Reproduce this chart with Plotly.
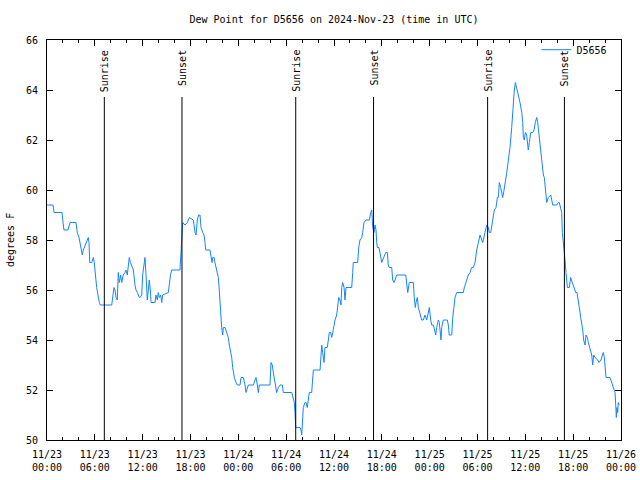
import pandas as pd
import plotly.graph_objects as go

# hours since 2024-11-23 00:00 UTC
hours = [0.00, 0.75, 0.88, 1.88, 2.01, 2.13, 2.63, 2.89, 3.64, 3.80, 4.01, 4.14, 4.43, 4.55, 4.77, 4.98,
         5.18, 5.27, 5.36, 5.61, 5.81, 5.93, 6.06, 6.23, 6.56, 6.69, 8.12, 8.28, 8.40, 8.53, 8.66, 8.82,
         8.94, 9.07, 9.24, 9.37, 9.57, 9.78, 9.91, 10.07, 10.20, 10.32, 10.47, 10.62, 10.83, 11.04, 11.16,
         11.33, 11.45, 11.58, 11.67, 11.88, 12.00, 12.17, 12.29, 12.42, 12.51, 12.58, 12.71, 12.83, 12.96,
         13.05, 13.55, 13.67, 13.84, 13.96, 14.09, 14.26, 14.39, 14.51, 15.22, 15.34, 15.49, 15.64, 16.68,
         16.81, 16.90, 17.02, 17.31, 17.60, 17.85, 18.13, 18.35, 18.57, 18.69, 18.85, 19.03, 19.19, 19.32,
         19.53, 19.69, 19.82, 19.91, 20.45, 20.57, 20.70, 20.79, 20.95, 21.07, 21.20, 21.36, 21.49, 21.61,
         21.70, 21.83, 21.91, 22.04, 22.12, 22.33, 22.54, 22.74, 22.87, 23.04, 23.17, 23.29, 23.37, 23.50,
         23.71, 23.87, 24.21, 24.34, 24.62, 24.84, 24.96, 25.13, 25.25, 25.88, 26.09, 26.22, 26.38, 26.51,
         26.63, 27.97, 28.10, 28.26, 28.39, 28.60, 28.73, 28.81, 29.01, 29.23, 29.52, 29.64, 30.70, 30.90,
         31.02, 31.11, 31.20, 31.74, 31.86, 31.95, 32.08, 32.15, 32.36, 32.49, 32.65, 32.78, 32.90, 33.20,
         33.33, 33.41, 34.25, 34.33, 34.37, 34.46, 34.58, 34.75, 34.87, 35.16, 35.29, 35.41, 35.59, 35.71,
         35.84, 36.00, 36.13, 36.34, 36.47, 36.59, 36.75, 36.88, 36.97, 37.09, 37.26, 37.38, 37.51, 38.22,
         38.35, 38.42, 38.97, 39.10, 39.26, 39.48, 39.60, 39.76, 40.02, 40.43, 40.61, 40.73, 40.86, 41.02,
         41.14, 41.27, 41.36, 41.43, 41.65, 41.77, 41.99, 42.11, 42.27, 42.49, 42.69, 42.81, 42.94, 43.24,
         43.36, 43.53, 43.65, 43.87, 45.00, 45.12, 45.25, 45.45, 45.95, 46.07, 46.20, 46.29, 46.45, 46.58,
         46.79, 47.00, 47.20, 47.42, 47.63, 47.83, 47.96, 48.13, 48.26, 48.46, 48.58, 48.76, 48.88, 49.09,
         49.21, 49.30, 49.42, 49.51, 49.71, 50.21, 50.34, 50.46, 50.77, 50.89, 51.05, 51.18, 51.39, 52.22,
         52.35, 52.56, 52.85, 53.06, 53.27, 53.48, 53.69, 53.90, 54.10, 54.32, 54.53, 54.66, 54.94, 55.16,
         55.36, 55.48, 55.66, 55.78, 55.98, 56.11, 56.32, 56.49, 56.61, 56.74, 56.91, 57.04, 57.16, 57.33,
         57.45, 57.67, 57.87, 58.08, 58.29, 58.49, 58.62, 58.75, 58.92, 59.12, 59.33, 59.55, 59.67, 59.75,
         59.87, 60.00, 60.17, 60.37, 60.50, 60.68, 60.93, 61.09, 61.25, 61.43, 61.55, 61.76, 61.93, 62.06,
         62.26, 62.38, 62.59, 62.68, 62.88, 63.19, 63.31, 63.43, 63.94, 64.14, 64.26, 64.44, 64.56, 64.64,
         64.89, 64.98, 65.10, 65.19, 65.27, 65.52, 65.69, 65.89, 66.14, 66.32, 66.48, 66.65, 66.77, 66.95,
         67.07, 67.20, 67.32, 67.49, 67.61, 67.78, 67.90, 68.11, 68.33, 68.45, 68.58, 68.74, 69.08, 69.24,
         69.49, 69.66, 69.78, 69.91, 70.00, 70.12, 70.62, 70.84, 71.04, 71.25, 71.34, 71.41, 71.50, 71.59,
         71.66, 71.75]

dew_point = [59.4, 59.4, 59.1, 59.1, 58.7, 58.4, 58.4, 58.7, 58.7, 58.3, 58.1, 57.9, 57.4, 57.6, 57.8, 57.9,
             58.1, 57.9, 57.1, 57.1, 57.3, 57.1, 56.7, 56.1, 55.5, 55.4, 55.4, 55.7, 56.1, 56.0, 55.7, 55.6,
             56.7, 56.3, 56.6, 56.3, 56.6, 56.7, 56.8, 56.6, 57.0, 57.3, 57.1, 57.0, 56.8, 56.2, 56.0,
             55.9, 55.8, 55.7, 55.7, 55.8, 56.6, 57.0, 57.3, 56.6, 56.1, 55.6, 56.0, 56.4, 56.0,
             55.5, 55.5, 55.8, 55.6, 55.9, 55.7, 55.8, 55.5, 55.8, 55.9, 56.3, 56.6, 56.8, 56.8,
             57.5, 58.3, 58.7, 58.6, 58.7, 58.9, 58.85, 58.8, 58.3, 58.2, 58.8, 59.0, 59.0, 58.5,
             58.3, 58.2, 57.9, 57.6, 57.6, 57.3, 57.1, 57.3, 57.3, 57.1, 56.9, 56.8, 56.5, 56.0,
             55.5, 54.9, 54.5, 54.2, 54.5, 54.5, 54.3, 54.1, 53.8, 53.5, 53.3, 52.9, 52.7, 52.5,
             52.3, 52.2, 52.2, 52.5, 52.5, 52.2, 51.9, 52.1, 52.2, 52.2, 52.4, 52.5, 52.2, 51.9,
             52.2, 52.2, 53.1, 53.0, 52.7, 52.3, 52.0, 51.9, 52.1, 52.2, 52.2, 51.9, 51.9, 51.7,
             51.5, 51.1, 50.5, 50.5, 50.4, 50.2, 50.9, 51.3, 51.5, 51.5, 51.3, 51.7, 51.9, 51.9,
             52.3, 52.8, 52.8, 53.1, 53.5, 53.8, 53.5, 53.1, 53.7, 53.7, 54.0, 54.3, 54.3, 54.1,
             54.3, 54.6, 54.8, 55.0, 55.3, 55.7, 55.6, 55.4, 56.1, 56.3, 56.1, 55.6, 56.1, 56.1,
             56.7, 57.1, 57.1, 57.7, 58.0, 58.1, 58.3, 58.7, 58.8, 58.8, 59.1, 59.2, 58.5, 58.3,
             58.6, 58.4, 57.9, 57.7, 57.7, 57.5, 57.1, 57.2, 57.3, 57.5, 57.5, 57.0, 56.9, 56.9,
             56.4, 56.3, 56.4, 56.6, 56.6, 56.1, 55.9, 56.3, 56.3, 55.7, 55.3, 55.5, 55.7, 55.3,
             55.0, 54.8, 54.8, 55.0, 54.8, 55.1, 55.3, 54.8, 54.6, 54.6, 54.4, 54.2, 54.5, 54.8,
             54.7, 54.4, 54.0, 54.5, 54.8, 54.8, 54.6, 54.2, 54.2, 54.9, 55.3, 55.7, 55.9, 55.9,
             56.1, 56.3, 56.6, 56.7, 56.9, 56.9, 57.1, 57.6, 57.9, 58.2, 58.0, 57.9, 58.3, 58.6,
             58.5, 58.3, 58.3, 58.5, 58.9, 59.2, 59.3, 59.7, 59.7, 60.3, 60.1, 59.9, 59.7, 60.0,
             60.2, 60.7, 61.2, 61.7, 62.5, 63.5, 64.0, 64.3, 64.1, 63.8, 63.5, 63.1, 62.7, 62.1,
             62.0, 62.3, 62.2, 61.6, 61.9, 62.3, 62.3, 62.4, 62.7, 62.9, 62.7, 62.1, 61.5, 61.0,
             60.6, 60.5, 59.9, 59.5, 59.7, 59.8, 59.6, 59.4, 59.4, 59.5, 59.5, 59.3, 59.1, 58.3,
             57.6, 57.2, 56.7, 56.3, 56.1, 56.1, 56.5, 56.3, 56.1, 55.9, 55.9, 55.6, 55.3, 54.9,
             54.7, 54.4, 54.0, 53.8, 54.2, 54.1, 53.9, 53.7, 53.4, 53.0, 53.4, 53.3, 53.2, 53.1,
             53.2, 53.4, 53.5, 53.3, 52.9, 52.5, 52.5, 52.3, 52.1, 51.9, 51.4, 50.9, 51.3, 51.1,
             51.5, 51.4]

event_hours = [7.19, 16.93, 31.20, 40.96, 55.27, 64.90]
event_labels = ["Sunrise", "Sunset", "Sunrise", "Sunset", "Sunrise", "Sunset"]

start = pd.Timestamp("2024-11-23 00:00")
times = start + pd.to_timedelta(hours, unit="h")
event_times = start + pd.to_timedelta(event_hours, unit="h")

FONT = "DejaVu Sans Mono"
fig = go.Figure()
fig.add_trace(go.Scatter(x=times, y=dew_point, mode="lines", name="D5656",
                         line=dict(color="#1484ff", width=1)))

for t, lab in zip(event_times, event_labels):
    fig.add_shape(type="line", xref="x", yref="paper", x0=t, x1=t, y0=0, y1=0.8575,
                  line=dict(color="black", width=1))
    fig.add_annotation(x=t, xref="x", y=0.98, yref="paper", text=lab, textangle=-90,
                       showarrow=False, xanchor="center", yanchor="top",
                       font=dict(family=FONT, size=10, color="black"))

fig.add_annotation(x=-37 / 574, xref="paper", y=0.5, yref="paper", text="degrees F",
                   textangle=-90, showarrow=False, xanchor="center", yanchor="middle",
                   font=dict(family=FONT, size=10, color="black"))

axis_common = dict(showline=True, linecolor="black", linewidth=1, mirror="allticks",
                   ticks="inside", tickcolor="black", ticklen=6, showgrid=False, zeroline=False,
                   automargin=False,
                   tickfont=dict(family=FONT, size=10, color="black"))

fig.update_xaxes(range=[start, start + pd.Timedelta(hours=72)], dtick=6 * 3600 * 1000,
                 tick0=start, tickformat="%m/%d<br>%H:%M", ticklabelstandoff=5,
                 minor=dict(dtick=2 * 3600 * 1000, ticks="inside", ticklen=3, tickcolor="black",
                            showgrid=False),
                 **axis_common)
fig.update_yaxes(range=[50, 66], dtick=2, tick0=50, ticklabelstandoff=6, **axis_common)

fig.update_layout(
    width=640, height=480,
    margin=dict(l=47, r=19, t=40, b=40),
    plot_bgcolor="white", paper_bgcolor="white",
    font=dict(family=FONT, size=10, color="black"),
    title=dict(text="Dew Point for D5656 on 2024-Nov-23 (time in UTC)", x=0.5, xref="paper",
               xanchor="center", y=1 - 19 / 480, yanchor="middle",
               font=dict(family=FONT, size=10, color="black")),
    showlegend=True,
    legend=dict(x=0.985, xanchor="right", y=1.012, yanchor="top", bgcolor="rgba(0,0,0,0)",
                font=dict(family=FONT, size=10, color="black"), itemwidth=30),
)

fig.write_html("out.html")
